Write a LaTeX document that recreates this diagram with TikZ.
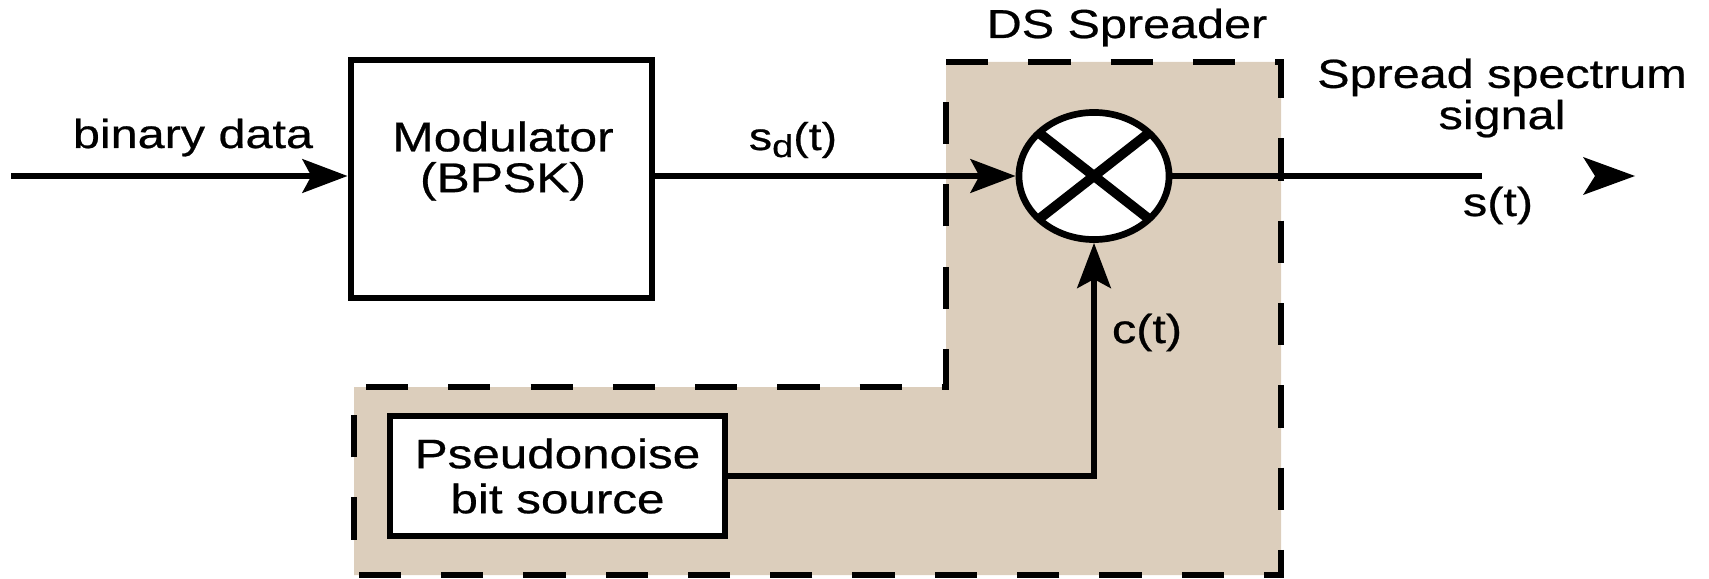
\documentclass[tikz,border=0pt]{standalone}
\usepackage{fontspec}
\setmainfont{Liberation Sans}[FakeStretch=1.2,FakeBold=0.6]
\usetikzlibrary{arrows.meta,shapes.geometric}
\definecolor{zonetan}{RGB}{220,206,188}
\begin{document}
\begin{tikzpicture}[x=0.01cm,y=-0.01cm,
  lbl/.style={inner sep=0pt,font=\fontsize{11.5}{10}\selectfont},
  blk/.style={draw,line width=1.9pt,fill=white,inner sep=0pt},
  wire/.style={line width=1.8pt},
  arr/.style={wire,-{Stealth[length=12.8pt,width=9.5pt,inset=2.5pt]}},
  zone/.style={fill=zonetan,draw,line width=1.9pt,dash pattern=on 12pt off 11.4pt},
  crossline/.style={line width=2.8pt}]
\useasboundingbox (0,0) rectangle (1709,579);
% DS spreader zone
\path[zone] (946,62) -- (1281,62) -- (1281,575) -- (354,575) -- (354,387) -- (946,387) -- cycle;
% blocks
\node[blk,minimum width=3.01cm,minimum height=2.38cm] (mod) at (501.5,179) {};
\node[lbl,align=center,font=\fontsize{11.8}{11.6}\selectfont] (modt) at (503,161) {Modulator\\(BPSK)};
\node[blk,minimum width=3.35cm,minimum height=1.2cm,align=center,font=\fontsize{11.7}{12.8}\selectfont] (pn) at (557.5,476) {Pseudonoise\\bit source};
\node[ellipse,draw,line width=1.9pt,fill=white,minimum width=1.5cm,minimum height=1.27cm,inner sep=0pt] (mix) at (1094,176) {};
\draw[crossline] ([shift={(-55,-43)}]mix.center) -- ([shift={(55,43)}]mix.center);
\draw[crossline] ([shift={(-55,43)}]mix.center) -- ([shift={(55,-43)}]mix.center);
% connectors
\coordinate (in) at (11,176);
\draw[arr] (in) -- (in -| mod.west);
\draw[arr] (mod.east |- mix) -- (mix.west);
\coordinate (outend) at (1482,176);
\draw[wire] (mix.east) -- (outend);
\coordinate (tip) at (1635,176);
\fill ([shift={(-52,-19)}]tip) -- (tip) -- ([shift={(-52,19)}]tip) -- ([shift={(-40,0)}]tip) -- cycle;
\draw[arr] (pn.east) -- (pn.east -| mix) -- (mix.south);
% labels
\node[lbl,anchor=base] (bd) at (193,148) {binary data};
\node[lbl,anchor=base,font=\fontsize{11}{10}\selectfont] (sd) at (793,150) {s\raisebox{-2pt}{\fontsize{9}{9}\selectfont d}(t)};
\node[lbl,anchor=base] (ct) at (1147,343) {c(t)};
\node[lbl,anchor=base] (st) at (1498,216) {s(t)};
\node[lbl,anchor=base] (ds) at (1127,38) {DS Spreader};
\node[lbl,align=center] (sss) at (1502,98) {Spread spectrum\\signal};
\end{tikzpicture}
\end{document}
